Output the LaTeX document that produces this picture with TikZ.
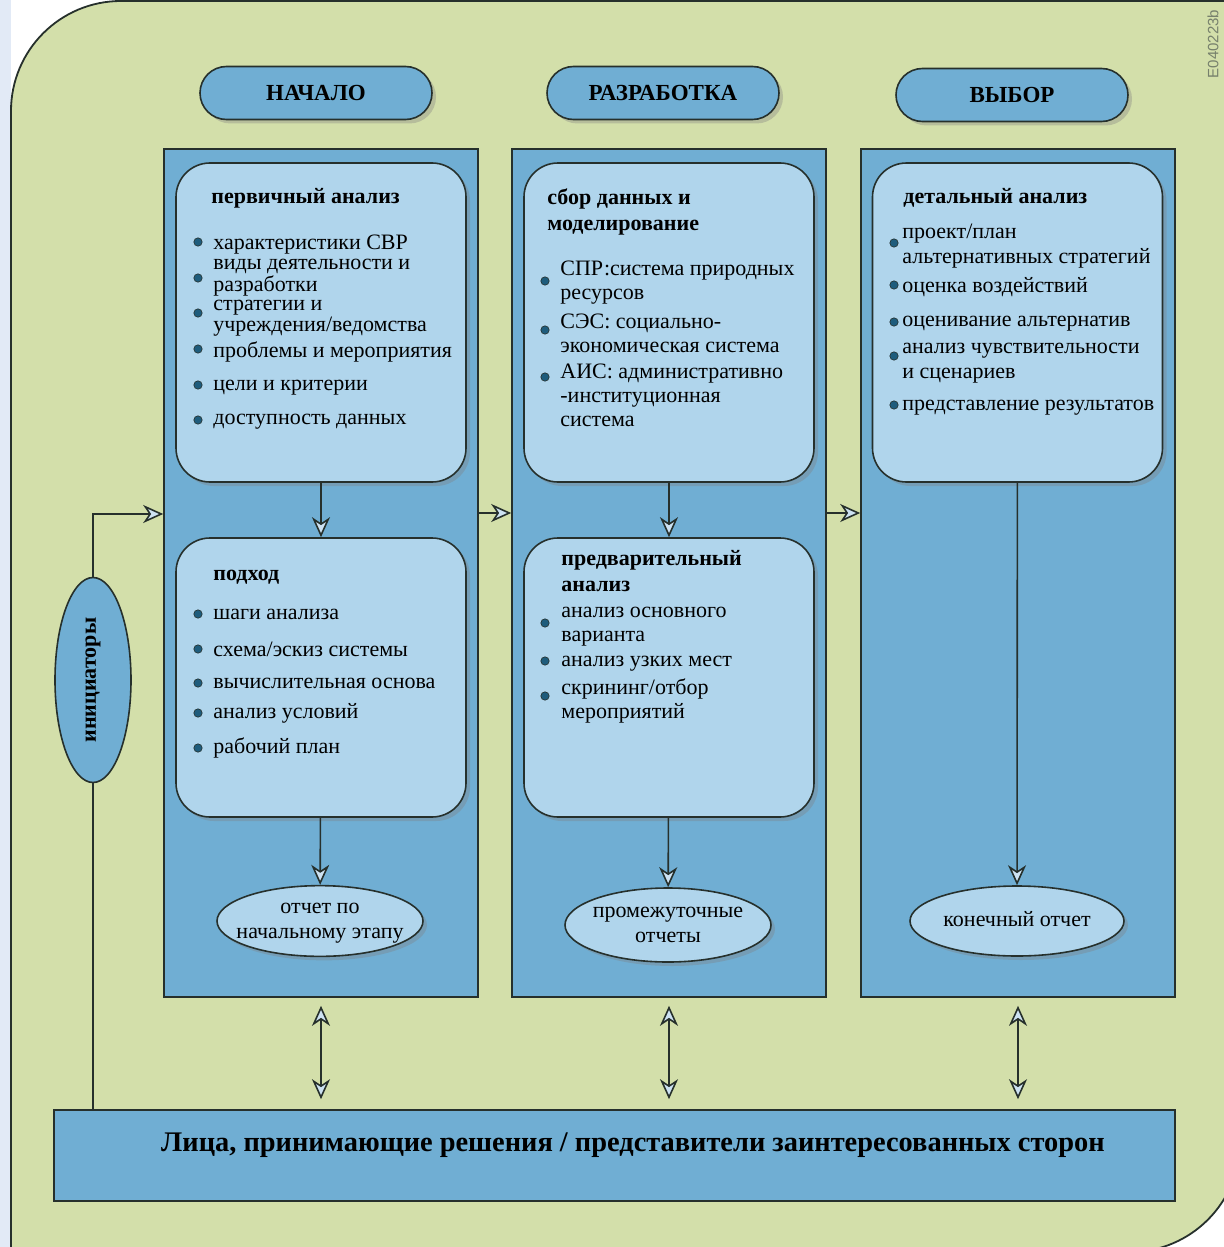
\documentclass[tikz,border=0pt]{standalone}
\usepackage{fontspec}
\setmainfont{Liberation Serif}
\setsansfont{Liberation Sans}
\usetikzlibrary{arrows.meta,shapes.geometric,shadows}

\definecolor{bggreen}{RGB}{211,223,170}
\definecolor{stripblue}{RGB}{226,234,246}
\definecolor{colblue}{RGB}{112,174,211}
\definecolor{lightblue}{RGB}{176,213,236}
\definecolor{linec}{RGB}{38,48,44}
\definecolor{dotblue}{RGB}{30,92,124}
\definecolor{tipblue}{RGB}{205,226,242}
\definecolor{codegray}{RGB}{118,128,108}

\newcommand{\inell}[1]{\makebox[0pt]{\begin{tabular}{@{}c@{}}#1\end{tabular}}}

\tikzset{
  column/.style={draw=linec, line width=0.8pt, fill=colblue, inner sep=0pt},
  phase/.style={draw=linec, line width=0.8pt, fill=colblue, inner sep=0pt,
    minimum width=116pt, minimum height=26.5pt, rounded corners=13.25pt,
    font=\fontsize{11.5}{13}\selectfont\bfseries,
    drop shadow={shadow xshift=2pt, shadow yshift=-2pt, opacity=.35}},
  stagebox/.style={draw=linec, line width=0.8pt, fill=lightblue, inner sep=0pt,
    minimum width=145pt, rounded corners=17pt,
    drop shadow={shadow xshift=2pt, shadow yshift=-2pt, opacity=.35}},
  report/.style={ellipse, draw=linec, line width=0.8pt, fill=lightblue, inner sep=0pt,
    font=\fontsize{11}{12.5}\selectfont,
    drop shadow={shadow xshift=2pt, shadow yshift=-2pt, opacity=.35}},
  head/.style={anchor=west, align=left, inner sep=0pt, font=\fontsize{11}{13}\selectfont\bfseries},
  entry/.style={anchor=west, align=left, inner sep=0pt, font=\fontsize{11}{12}\selectfont},
  dot/.style={circle, fill=dotblue, draw=linec, line width=0.3pt, minimum size=4.2pt, inner sep=0pt},
}

\begin{document}
\begin{tikzpicture}[x=0.5pt, y=-0.5pt,
  >={Stealth[length=10pt, width=9pt, inset=3pt, fill=tipblue]},
  flow/.style={draw=linec, line width=0.8pt}]
  \useasboundingbox (0,0) rectangle (1224,1247);
  \fill[stripblue] (0,0) rectangle (11,1247);
  \begin{scope}
    \clip (0,0) rectangle (1224,1247);
    \draw[linec, line width=0.9pt, fill=bggreen] (11,1260) -- (11,111)
      arc[start angle=180, end angle=90, radius=55pt] -- (1240,1) -- (1240,1142)
      arc[start angle=0, end angle=-90, radius=55pt] -- (1122,1260) -- cycle;
  \end{scope}
  \node[rotate=90, text=codegray, font=\sffamily\fontsize{7.5}{8}\selectfont] (code) at (1213,44) {E040223b};

  % phases
  \node[phase] (start) at (316,93) {НАЧАЛО};
  \node[phase] (devel) at (663,93) {РАЗРАБОТКА};
  \node[phase] (choice) at (1012,95) {ВЫБОР};

  \node[column, minimum width=157pt, minimum height=424pt] (col1) at (321,573) {};
  \node[column, minimum width=157pt, minimum height=424pt] (col2) at (669,573) {};
  \node[column, minimum width=157pt, minimum height=424pt] (col3) at (1018,573) {};

  \node[stagebox, minimum height=159.5pt] (prim) at (321,322.5) {};
  \node[stagebox, minimum height=139.5pt] (appr) at (321,677.5) {};
  \node[stagebox, minimum height=159.5pt] (model) at (669,322.5) {};
  \node[stagebox, minimum height=139.5pt] (pre) at (669,677.5) {};
  \node[stagebox, minimum height=159.5pt] (det) at (1017.5,322.5) {};

  % column 1
  \node[head] (prim-h) at (211,198) {первичный анализ};
  \foreach \y/\by/\t [count=\i] in {245/242/{характеристики СВР},
      277.5/278/{виды деятельности и\\разработки},
      318.5/313/{стратегии и\\учреждения/ведомства},
      352/349/{проблемы и мероприятия},
      388/385/{цели и критерии},
      422/420/{доступность данных}}{
    \node[entry, font=\fontsize{11}{9.5}\selectfont] (prim-\i) at (213,\y) {\t};
    \node[dot] (prim-d\i) at (198,\by) {};
  }
  \node[head] (appr-h) at (213,577) {подход};
  \foreach \y/\t [count=\i] in {614/{шаги анализа}, 649/{схема/эскиз системы},
      683/{вычислительная основа}, 713/{анализ условий}, 748/{рабочий план}}{
    \node[entry] (appr-\i) at (213,\y) {\t};
    \node[dot] (appr-d\i) at (198,\y) {};
  }

  % column 2
  \node[head] (model-h) at (547,212) {сбор данных и\\моделирование};
  \foreach \y/\by/\t [count=\i] in {283/281/{СПР:система природных\\ресурсов},
      333/330/{СЭС: социально-\\экономическая система},
      395/377/{АИС: административно\\-институционная\\система}}{
    \node[entry] (model-\i) at (560,\y) {\t};
    \node[dot] (model-d\i) at (545,\by) {};
  }
  \node[head] (pre-h) at (561,571) {предварительный\\анализ};
  \foreach \y/\by/\t [count=\i] in {626.5/623/{анализ основного\\варианта},
      664/661/{анализ узких мест},
      701/696/{скрининг/отбор\\мероприятий}}{
    \node[entry] (pre-\i) at (561,\y) {\t};
    \node[dot] (pre-d\i) at (545,\by) {};
  }

  % column 3
  \node[head] (det-h) at (903,198) {детальный анализ};
  \foreach \y/\by/\t [count=\i] in {246.5/243/{проект/план\\альтернативных стратегий},
      287/285/{оценка воздействий},
      324/322/{оценивание альтернатив},
      363.5/356/{анализ чувствительности\\и сценариев},
      408/405/{представление результатов}}{
    \node[entry, font=\fontsize{11}{12.5}\selectfont] (det-\i) at (902,\y) {\t};
    \node[dot] (det-d\i) at (894,\by) {};
  }

  % reports
  \node[report, minimum width=103pt, minimum height=35pt] (rep1) at (320,921) {\inell{отчет по\\начальному этапу}};
  \node[report, minimum width=103pt, minimum height=37pt] (rep2) at (668,925) {\inell{промежуточные\\отчеты}};
  \node[report, minimum width=107pt, minimum height=35pt] (rep3) at (1017,921) {\inell{конечный отчет}};

  \node[ellipse, draw=linec, line width=0.8pt, fill=colblue, inner sep=0pt, rotate=90,
    minimum width=102.5pt, minimum height=38pt, font=\fontsize{11}{13}\selectfont\bfseries] (init) at (93,680) {инициаторы};

  \node[column, minimum width=560.5pt, minimum height=45.5pt] (dm) at (614.5,1155.5) {};
  \node[font=\fontsize{14.2}{16}\selectfont\bfseries] (dm-t) at (633,1145) {Лица, принимающие решения / представители заинтересованных сторон};

  % arrows
  \draw[flow,->] (prim) -- (appr);
  \draw[flow,->] (model) -- (pre);
  \draw[flow,->] (appr) -- (rep1);
  \draw[flow,->] (pre) -- (rep2);
  \draw[flow,->] (det) -- (rep3);
  \draw[flow,->] ([yshift=30pt]col1.east) -- ([yshift=30pt]col2.west);
  \draw[flow,->] ([yshift=30pt]col2.east) -- ([yshift=30pt]col3.west);
  \draw[flow,->] (init.east) |- ([yshift=29.5pt]col1.west);
  \draw[flow] (init.west) -- (init.west |- dm.north);
  \foreach \c in {col1,col2,col3}
    \draw[flow,<->, shorten <=4pt, shorten >=5pt] (\c.south) -- (\c.south |- dm.north);
\end{tikzpicture}
\end{document}
